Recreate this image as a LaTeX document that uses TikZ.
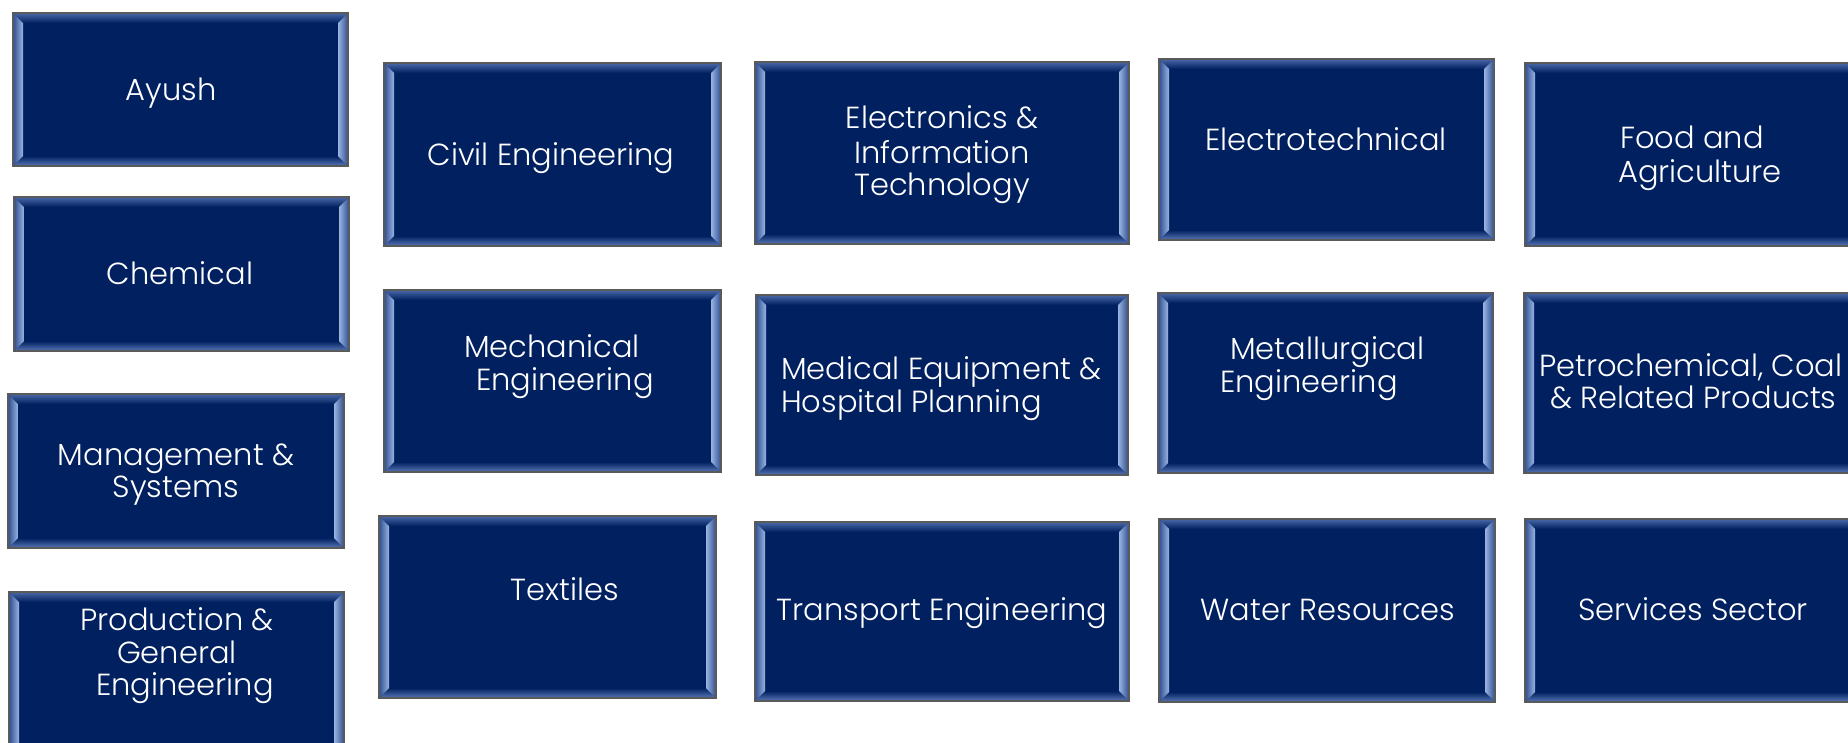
\documentclass[tikz,border=0pt]{standalone}
\usepackage{fontspec}
\setmainfont{Poppins Light}
\definecolor{navy}{HTML}{002060}
\definecolor{bvtop}{HTML}{4A68A8}
\definecolor{bvbot}{HTML}{5A78B8}
\definecolor{bvmid}{HTML}{2E4E90}
\definecolor{bvlight}{HTML}{9AB4E2}
\definecolor{edgegray}{HTML}{5A5A5A}
\tikzset{
  lbl/.style={text=white, font=\fontsize{30.5}{34}\selectfont, inner sep=0pt, anchor=base},
  lblw/.style={lbl, anchor=base west},
  boxedge/.style={draw=edgegray, line width=2.5pt},
}
\newcommand{\bw}{10}
\newcommand{\bevbox}[5]{%
  \fill[navy] (#2,#3) rectangle (#4,#5);
  \shade[top color=bvtop, bottom color=navy] (#2,#3) -- (#4,#3) -- ({#4-\bw},{#3+\bw}) -- ({#2+\bw},{#3+\bw}) -- cycle;
  \shade[top color=navy, bottom color=bvbot] (#2,#5) -- (#4,#5) -- ({#4-\bw},{#5-\bw}) -- ({#2+\bw},{#5-\bw}) -- cycle;
  \shade[left color=bvmid, right color=bvlight] (#2,#3) -- ({#2+\bw},{#3+\bw}) -- ({#2+\bw},{#5-\bw}) -- (#2,#5) -- cycle;
  \shade[left color=bvlight, right color=bvmid] (#4,#3) -- ({#4-\bw},{#3+\bw}) -- ({#4-\bw},{#5-\bw}) -- (#4,#5) -- cycle;
  \draw[boxedge] (#2,#3) rectangle (#4,#5);
  \path ({(#2+#4)/2},{(#3+#5)/2}) node[minimum width={(#4-#2)*1pt}, minimum height={(#5-#3)*1pt}, inner sep=0pt] (#1) {};
}
\begin{document}
\begin{tikzpicture}[x=1pt,y=-1pt]
\useasboundingbox (0,0) rectangle (1848,742);
\clip (0,0) rectangle (1848,742);
\fill[white] (0,0) rectangle (1848,742);
% column 1
\bevbox{ayush}{13}{13}{348}{166}
\bevbox{chem}{14}{197}{349}{351}
\bevbox{mgmt}{8}{394}{344}{548}
\bevbox{prod}{9}{592}{344}{760}
% column 2
\bevbox{civil}{384}{63}{721}{246}
\bevbox{mech}{384}{290}{721}{472}
\bevbox{text}{379}{516}{716}{698}
% column 3
\bevbox{elec}{755}{62}{1129}{244}
\bevbox{med}{756}{295}{1128}{475}
\bevbox{trans}{755}{522}{1129}{701}
% column 4
\bevbox{eltech}{1159}{59}{1494}{240}
\bevbox{metal}{1158}{293}{1493}{473}
\bevbox{water}{1159}{519}{1495}{702}
% column 5
\bevbox{food}{1525}{63}{1890}{246}
\bevbox{petro}{1524}{293}{1890}{473}
\bevbox{serv}{1525}{519}{1890}{702}
% labels
\node[lbl] (l-ayush) at (171,100) {Ayush};
\node[lbl] (l-chem) at (180,284) {Chemical};
\node[lbl] (l-mgmt1) at (176,465) {Management \&};
\node[lbl] (l-mgmt2) at (176,497) {Systems};
\node[lbl] (l-prod1) at (177,630) {Production \&};
\node[lbl] (l-prod2) at (177,663) {General};
\node[lbl] (l-prod3) at (185,695) {Engineering};
\node[lbl] (l-civil) at (551,165) {Civil Engineering};
\node[lbl] (l-mech1) at (552,357) {Mechanical};
\node[lbl] (l-mech2) at (565,390) {Engineering};
\node[lbl] (l-text) at (565,600) {Textiles};
\node[lbl] (l-elec1) at (942,128) {Electronics \&};
\node[lbl] (l-elec2) at (942,163) {Information};
\node[lbl] (l-elec3) at (942,195) {Technology};
\node[lblw] (l-med1) at (781,379) {Medical Equipment \&};
\node[lblw] (l-med2) at (781,412) {Hospital Planning};
\node[lbl] (l-trans) at (942,620) {Transport Engineering};
\node[lbl] (l-eltech) at (1326,150) {Electrotechnical};
\node[lblw] (l-metal1) at (1230,359) {Metallurgical};
\node[lblw] (l-metal2) at (1220,392) {Engineering};
\node[lbl] (l-water) at (1328,620) {Water Resources};
\node[lbl] (l-food1) at (1692,148) {Food and};
\node[lbl] (l-food2) at (1700,182) {Agriculture};
\node[lblw] (l-petro1) at (1539,376) {Petrochemical, Coal};
\node[lblw] (l-petro2) at (1550,408) {\& Related Products};
\node[lbl] (l-serv) at (1693,620) {Services Sector};
\end{tikzpicture}
\end{document}
